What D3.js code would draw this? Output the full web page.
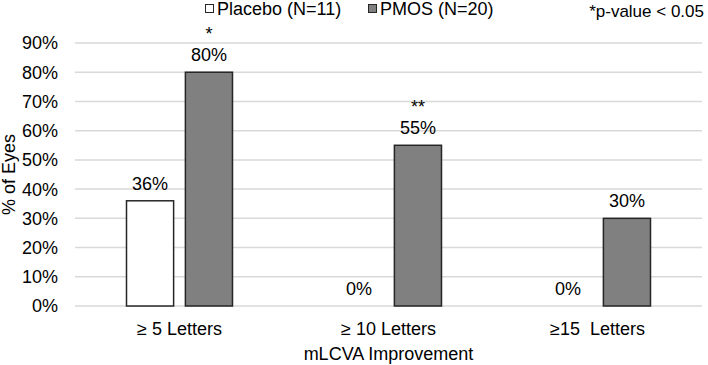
<!DOCTYPE html>
<html>
<head>
<meta charset="utf-8">
<script src="https://cdn.jsdelivr.net/npm/d3@7"></script>
<style>
  body { margin: 0; background: #fff; }
  svg text { font-family: "Liberation Sans", Arial, sans-serif; fill: #000; }
</style>
</head>
<body>
<div id="chart"></div>
<script>
// data
const categories = ["≥ 5 Letters", "≥ 10 Letters", "≥15  Letters"];
const seriesNames = ["Placebo (N=11)", "PMOS (N=20)"];
const placebo = [36, 0, 0];
const pmos = [80, 55, 30];
const stars = ["*", "**", ""];
const yTicks = [0, 10, 20, 30, 40, 50, 60, 70, 80, 90];

const width = 708, height = 365;
const margin = {top: 43, right: 6, bottom: 59, left: 75};
const fontSize = 18;

const svg = d3.select("#chart").append("svg")
  .attr("width", width)
  .attr("height", height);

const x0 = d3.scaleBand()
  .domain(categories)
  .range([margin.left, width - margin.right]);

const x1 = d3.scaleBand()
  .domain(seriesNames)
  .range([x0.bandwidth() / 2 - 53, x0.bandwidth() / 2 + 53])
  .paddingInner(0.2);

const y = d3.scaleLinear()
  .domain([0, 90])
  .range([height - margin.bottom, margin.top]);

const fills = {"Placebo (N=11)": "#ffffff", "PMOS (N=20)": "#808080"};

// gridlines
svg.append("g")
  .selectAll("line")
  .data(yTicks)
  .join("line")
    .attr("x1", margin.left)
    .attr("x2", width - margin.right)
    .attr("y1", d => y(d))
    .attr("y2", d => y(d))
    .attr("stroke", "#d9d9d9")
    .attr("stroke-width", 1.5);

// y tick labels
svg.append("g")
  .selectAll("text")
  .data(yTicks)
  .join("text")
    .attr("x", 58)
    .attr("y", d => y(d))
    .attr("dy", "0.36em")
    .attr("text-anchor", "end")
    .style("font-size", fontSize + "px")
    .text(d => d + "%");

const rows = categories.map((c, i) => ({
  cat: c,
  star: stars[i],
  vals: [{s: seriesNames[0], v: placebo[i]}, {s: seriesNames[1], v: pmos[i]}]
}));

const groups = svg.append("g")
  .selectAll("g")
  .data(rows)
  .join("g")
    .attr("transform", d => `translate(${x0(d.cat)},0)`);

groups.selectAll("rect")
  .data(d => d.vals.filter(e => e.v > 0))
  .join("rect")
    .attr("x", e => x1(e.s))
    .attr("y", e => y(e.v))
    .attr("width", x1.bandwidth())
    .attr("height", e => y(0) - y(e.v))
    .attr("fill", e => fills[e.s])
    .attr("stroke", "#262626")
    .attr("stroke-width", 1.5);

// value labels
groups.selectAll("text.val")
  .data(d => d.vals)
  .join("text")
    .attr("class", "val")
    .attr("x", e => x1(e.s) + x1.bandwidth() / 2)
    .attr("y", e => y(e.v) - 11)
    .attr("text-anchor", "middle")
    .style("font-size", fontSize + "px")
    .text(e => e.v + "%");

// significance stars above the PMOS label
groups.append("text")
  .attr("x", x1(seriesNames[1]) + x1.bandwidth() / 2)
  .attr("y", d => y(d.vals[1].v) - 32)
  .attr("text-anchor", "middle")
  .style("font-size", fontSize + "px")
  .text(d => d.star);

// category labels
svg.append("g")
  .selectAll("text")
  .data(categories)
  .join("text")
    .attr("x", d => x0(d) + x0.bandwidth() / 2)
    .attr("y", 335)
    .attr("text-anchor", "middle")
    .style("font-size", fontSize + "px")
    .style("white-space", "pre")
    .text(d => d);

// axis titles
svg.append("text")
  .attr("x", (margin.left + width - margin.right) / 2)
  .attr("y", 360)
  .attr("text-anchor", "middle")
  .style("font-size", fontSize + "px")
  .text("mLCVA Improvement");

svg.append("text")
  .attr("transform", `translate(14.5,${(margin.top + height - margin.bottom) / 2}) rotate(-90)`)
  .attr("text-anchor", "middle")
  .style("font-size", fontSize + "px")
  .text("% of Eyes");

// legend
const legendX = [205, 368];
const legend = svg.append("g")
  .selectAll("g")
  .data(seriesNames)
  .join("g")
    .attr("transform", (d, i) => `translate(${legendX[i]},0)`);

legend.append("rect")
  .attr("x", 0.5)
  .attr("y", 4.5)
  .attr("width", 8)
  .attr("height", 8)
  .attr("fill", d => fills[d])
  .attr("stroke", "#262626")
  .attr("stroke-width", 1);

legend.append("text")
  .attr("x", 12)
  .attr("y", 15)
  .style("font-size", fontSize + "px")
  .text(d => d);

svg.append("text")
  .attr("x", 704)
  .attr("y", 17)
  .attr("text-anchor", "end")
  .style("font-size", "17px")
  .text("*p-value < 0.05");
</script>
</body>
</html>
